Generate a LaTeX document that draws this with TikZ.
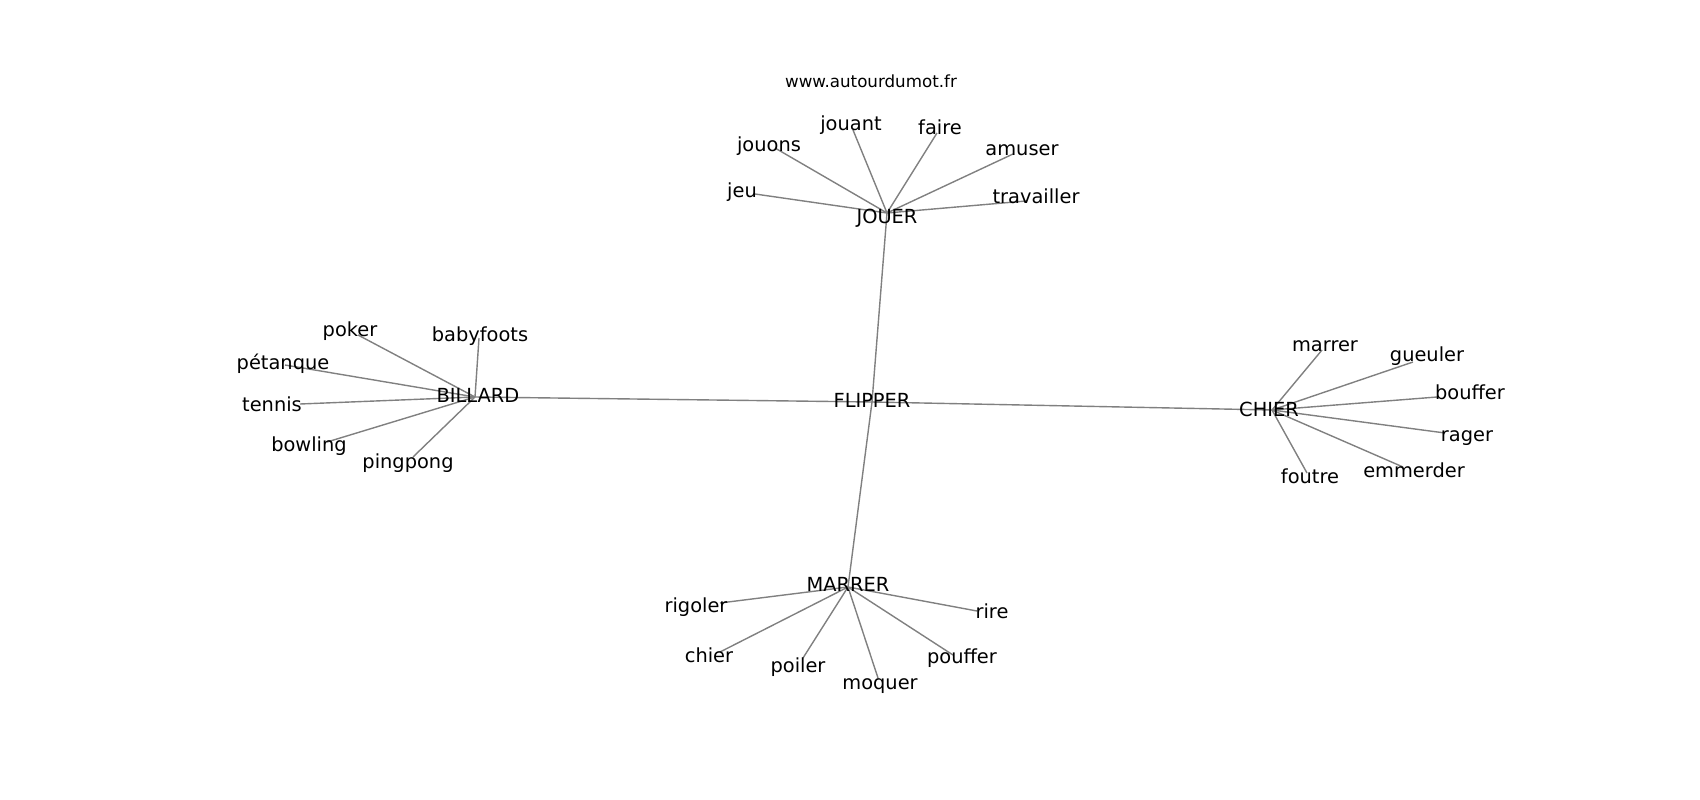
\documentclass[tikz,border=0pt]{standalone}
\usepackage{fontspec}
\setmainfont{DejaVu Sans}
\begin{document}
\begin{tikzpicture}[x=1pt,y=-1pt,
  word/.style={font=\fontsize{19.4}{23}\selectfont, text height=14.7pt, text depth=4.7pt, inner sep=0pt},
  titletext/.style={font=\fontsize{16.7}{20}\selectfont, text height=12.7pt, text depth=4pt, inner sep=0pt},
  edge/.style={draw=gray, line width=1.4pt}]
\path[use as bounding box] (0,0) rectangle (1700,800);
% hubs
\coordinate (hF) at (872,402);
\coordinate (hJ) at (887,213);
\coordinate (hB) at (475,397);
\coordinate (hC) at (1272,410);
\coordinate (hM) at (848,587);
% leaf end points
\coordinate (e-jeu) at (755,194);
\coordinate (e-jouons) at (775,148);
\coordinate (e-jouant) at (853,130);
\coordinate (e-faire) at (937,133);
\coordinate (e-amuser) at (1013,154);
\coordinate (e-travailler) at (1026,201);
\coordinate (e-poker) at (358,335);
\coordinate (e-babyfoots) at (479,338);
\coordinate (e-petanque) at (285,365);
\coordinate (e-tennis) at (300,404);
\coordinate (e-bowling) at (327,442);
\coordinate (e-pingpong) at (413,457);
\coordinate (e-marrer) at (1322,350);
\coordinate (e-gueuler) at (1413,362);
\coordinate (e-bouffer) at (1437,397);
\coordinate (e-rager) at (1445,433);
\coordinate (e-emmerder) at (1403,467);
\coordinate (e-foutre) at (1307,473);
\coordinate (e-rigoler) at (720,603);
\coordinate (e-chier) at (720,652);
\coordinate (e-poiler) at (803,658);
\coordinate (e-moquer) at (878,678);
\coordinate (e-pouffer) at (953,655);
\coordinate (e-rire) at (977,611);
% edges
\draw[edge] (hF) -- (hJ);
\draw[edge] (hF) -- (hB);
\draw[edge] (hF) -- (hC);
\draw[edge] (hF) -- (hM);
\foreach \n in {jeu,jouons,jouant,faire,amuser,travailler} \draw[edge] (hJ) -- (e-\n);
\foreach \n in {poker,babyfoots,petanque,tennis,bowling,pingpong} \draw[edge] (hB) -- (e-\n);
\foreach \n in {marrer,gueuler,bouffer,rager,emmerder,foutre} \draw[edge] (hC) -- (e-\n);
\foreach \n in {rigoler,chier,poiler,moquer,pouffer,rire} \draw[edge] (hM) -- (e-\n);
% labels
\node[titletext] (title) at (871,83) {www.autourdumot.fr};
\node[word] (FLIPPER) at (872,402) {FLIPPER};
\node[word] (JOUER) at (887,218) {JOUER};
\node[word] (BILLARD) at (478,397) {BILLARD};
\node[word] (CHIER) at (1269,411) {CHIER};
\node[word] (MARRER) at (848,586) {MARRER};
\node[word] (jeu) at (742,192) {jeu};
\node[word] (jouons) at (769,146) {jouons};
\node[word] (jouant) at (851,125) {jouant};
\node[word] (faire) at (940,129) {faire};
\node[word] (amuser) at (1022,150) {amuser};
\node[word] (travailler) at (1036,198) {travailler};
\node[word] (poker) at (350,331) {poker};
\node[word] (babyfoots) at (480,336) {babyfoots};
\node[word] (petanque) at (283,364) {pétanque};
\node[word] (tennis) at (272,406) {tennis};
\node[word] (bowling) at (309,446) {bowling};
\node[word] (pingpong) at (408,463) {pingpong};
\node[word] (marrer) at (1325,346) {marrer};
\node[word] (gueuler) at (1427,356) {gueuler};
\node[word] (bouffer) at (1470,394) {bouffer};
\node[word] (rager) at (1467,436) {rager};
\node[word] (emmerder) at (1414,472) {emmerder};
\node[word] (foutre) at (1310,478) {foutre};
\node[word] (rigoler) at (696,607) {rigoler};
\node[word] (chier) at (709,657) {chier};
\node[word] (poiler) at (798,667) {poiler};
\node[word] (moquer) at (880,684) {moquer};
\node[word] (pouffer) at (962,658) {pouffer};
\node[word] (rire) at (992,613) {rire};
\end{tikzpicture}
\end{document}
